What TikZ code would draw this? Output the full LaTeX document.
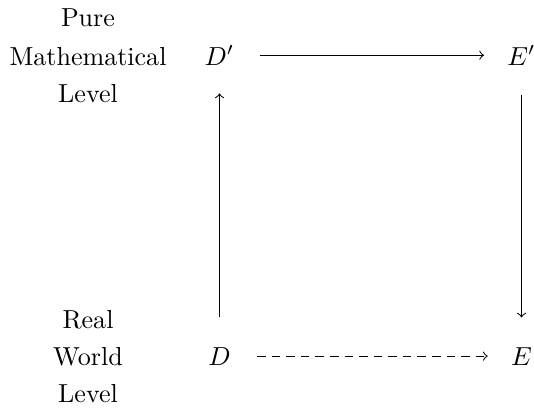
\documentclass[tikz,border=0pt]{standalone}
\begin{document}
\begin{tikzpicture}[x=0.384pt,y=-0.384pt,
  lbl/.style={anchor=base,inner sep=0pt},
  obj/.style={anchor=base,inner sep=3.33pt},
  arr/.style={->},
  dsh/.style={dash pattern=on 3.3pt off 2.3pt}]
\useasboundingbox (0,0) rectangle (534,408);
% left labels
\node[lbl] (pure) at (88,26) {Pure};
\node[lbl] (math) at (88,65) {Mathematical};
\node[lbl] (lvla) at (88,102) {Level};
\node[lbl] (real) at (88,328) {Real};
\node[lbl] (world) at (88,365) {World};
\node[lbl] (lvlb) at (88,402) {Level};
% objects
\node[obj] (Dp) at (219.5,65) {$D'$};
\node[obj] (Ep) at (521.5,65) {$E'$};
\node[obj] (D) at (219.5,365) {$D$};
\node[obj] (E) at (521.5,365) {$E$};
% arrows
\draw[arr,shorten <=6.2pt,shorten >=5.5pt] (Dp.east) -- (Ep.west);
\draw[arr,shorten <=7.9pt,shorten >=7.4pt] (D.north) -- (Dp.south);
\draw[arr,shorten <=8.1pt,shorten >=7.9pt] (Ep.south) -- (E.north);
\draw[arr,dsh,shorten <=6.6pt,shorten >=5.5pt] (D.east) -- (E.west);
\end{tikzpicture}
\end{document}
